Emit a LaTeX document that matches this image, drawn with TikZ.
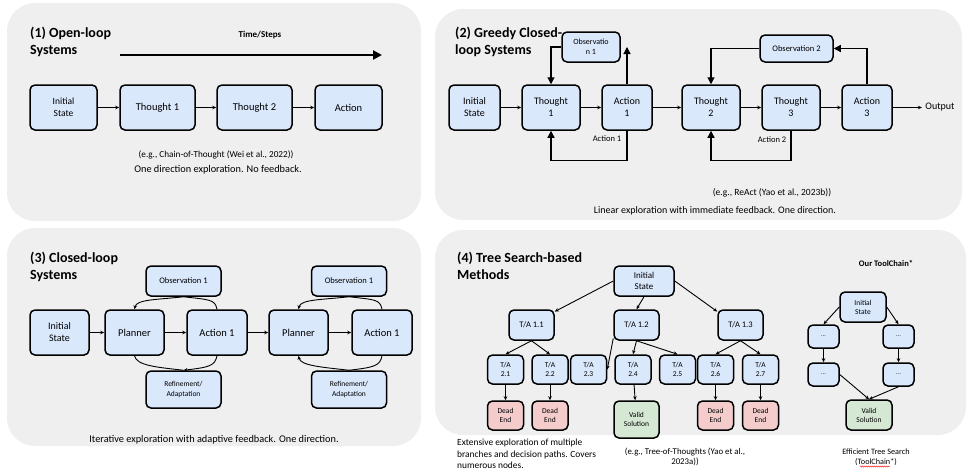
\documentclass[tikz,border=0pt]{standalone}
\usepackage{fontspec}
\setmainfont{Carlito}
\usetikzlibrary{arrows.meta,decorations.pathmorphing}

\definecolor{panelgray}{HTML}{EFEFEF}
\definecolor{boxblue}{HTML}{DAE8FC}
\definecolor{deadred}{HTML}{F4CCCC}
\definecolor{validgreen}{HTML}{D5E8D4}

\begin{document}
\begin{tikzpicture}[x=1pt,y=-1pt,
  panel/.style={fill=panelgray,rounded corners=28pt},
  blk/.style={draw=black,line width=1.5pt,rounded corners=5pt,fill=boxblue,align=center,inner sep=1pt},
  dead/.style={blk,fill=deadred},
  valid/.style={blk,fill=validgreen},
  flow/.style={-{Stealth[length=4pt,width=3.5pt]},line width=0.9pt},
  fb/.style={-{Triangle[length=7pt,width=7pt]},line width=1.2pt},
  title/.style={font=\bfseries\fontsize{14}{17}\selectfont,align=left,anchor=north west,inner sep=0pt},
  note/.style={font=\fontsize{9}{11}\selectfont,align=center,inner sep=0pt}]
\useasboundingbox (0,0) rectangle (968,471);

\fill[panel] (7,3) rectangle (421,221);
\fill[panel] (435,9) rectangle (962,220);
\fill[panel] (7,228) rectangle (421,446);
\fill[panel] (435,230) rectangle (966,435);

\node[title] (title1) at (30,27) {(1) Open-loop\\Systems};
\node[title] (title2) at (455,27) {(2) Greedy Closed-\\loop Systems};
\node[title] (title3) at (30,252) {(3) Closed-loop\\Systems};
\node[title] (title4) at (457,252) {(4) Tree Search-based\\Methods};

\node[font=\bfseries\fontsize{9}{11}\selectfont] (time) at (260,35) {Time/Steps};
\coordinate (ts) at (120,55);
\coordinate (te) at (382,55);
\draw[line width=2.2pt,-{Triangle[length=9pt,width=9pt]}] (ts) -- (te);

\begin{scope}[every node/.append style={blk,minimum height=45pt,font=\fontsize{10.5}{13}\selectfont}]
  \node[minimum width=67pt,font=\fontsize{9.5}{12}\selectfont] (is1) at (63.5,107.5) {Initial\\State};
  \node[minimum width=75pt] (th1) at (157.5,107.5) {Thought 1};
  \node[minimum width=75pt] (th2) at (254.5,107.5) {Thought 2};
  \node[minimum width=67pt] (act) at (348.5,107.5) {Action};
\end{scope}
\path[flow] (is1) edge (th1) (th1) edge (th2) (th2) edge (act);

\node[note,font=\fontsize{9.2}{11}\selectfont] (eg1) at (216,155) {(e.g., Chain-of-Thought (Wei et al., 2022))};
\node[note,font=\fontsize{10.3}{12}\selectfont] (cap1) at (218,170) {One direction exploration. No feedback.};

\begin{scope}[every node/.append style={blk,minimum height=45pt,font=\fontsize{10}{12}\selectfont}]
  \node[minimum width=51pt] (is2) at (474.5,107.5) {Initial\\State};
  \node[minimum width=58pt] (gt1) at (551,107.5) {Thought\\1};
  \node[minimum width=50pt] (ga1) at (627,107.5) {Action\\1};
  \node[minimum width=58pt] (gt2) at (711,107.5) {Thought\\2};
  \node[minimum width=58pt] (gt3) at (791,107.5) {Thought\\3};
  \node[minimum width=50pt] (ga3) at (867,107.5) {Action\\3};
\end{scope}
\node[font=\fontsize{10}{12}\selectfont] (out) at (940,107.5) {Output};
\node[blk,minimum width=58pt,minimum height=30pt,font=\fontsize{8}{10}\selectfont] (obs1) at (591,47) {Observatio\\n 1};
\node[blk,minimum width=73pt,minimum height=27pt,font=\fontsize{8.5}{10}\selectfont] (obs2) at (796.5,48.5) {Observation 2};
\path[flow] (is2) edge (gt1) (gt1) edge (ga1) (ga1) edge (gt2) (gt2) edge (gt3) (gt3) edge (ga3) (ga3) edge (out);
\draw[fb] (ga1.north) -- (ga1.north |- obs1.east);
\draw[fb] (obs1.west) -| (gt1.north);
\draw[fb] (ga1.south) -- ++(0,30) -| (gt1.south);
\draw[fb] (ga3.north) |- (obs2.east);
\draw[fb] (obs2.west) -| (gt2.north);
\draw[fb] (gt3.south) -- ++(0,30) -| (gt2.south);
\node[font=\fontsize{8.5}{10}\selectfont] (lab1) at (607,139) {Action 1};
\node[font=\fontsize{8.5}{10}\selectfont] (lab2) at (772,140) {Action 2};

\node[note,font=\fontsize{9.5}{11}\selectfont] (eg2) at (772,193) {(e.g., ReAct (Yao et al., 2023b))};
\node[note,font=\fontsize{10}{12}\selectfont] (cap2) at (715,211) {Linear exploration with immediate feedback. One direction.};

\begin{scope}[every node/.append style={blk,minimum height=45pt,font=\fontsize{10.5}{13}\selectfont}]
  \node[minimum width=59pt,font=\fontsize{10}{12}\selectfont] (is3) at (59.5,332.5) {Initial\\State};
  \node[minimum width=59pt] (pl1) at (134.5,332.5) {Planner};
  \node[minimum width=60pt] (ac1) at (217,332.5) {Action 1};
  \node[minimum width=59pt] (pl2) at (298.5,332.5) {Planner};
  \node[minimum width=60pt] (ac2) at (382,332.5) {Action 1};
\end{scope}
\begin{scope}[every node/.append style={blk,minimum width=75pt}]
  \node[minimum height=30pt,font=\fontsize{8.5}{10}\selectfont] (ob31) at (183.5,281) {Observation 1};
  \node[minimum height=30pt,font=\fontsize{8.5}{10}\selectfont] (ob32) at (349,281) {Observation 1};
  \node[minimum height=37pt,font=\fontsize{7.5}{10}\selectfont] (rf1) at (183.5,389.5) {Refinement/\\Adaptation};
  \node[minimum height=37pt,font=\fontsize{7.5}{10}\selectfont] (rf2) at (349,389.5) {Refinement/\\Adaptation};
\end{scope}
\path[flow] (is3) edge (pl1) (pl1) edge (ac1) (ac1) edge (pl2) (pl2) edge (ac2);
\draw[line width=0.9pt] (ac1.north) .. controls +(-2,-10) and +(26,3) .. (ob31.south);
\draw[flow] (ob31.south) .. controls +(-26,3) and +(2,-10) .. (pl1.north);
\draw[line width=0.9pt] (pl1.south) .. controls +(2,10) and +(-26,-3) .. (rf1.north);
\draw[flow] (ac1.south) .. controls +(-2,10) and +(26,-3) .. (rf1.north);
\draw[line width=0.9pt] (ac2.north) .. controls +(-2,-10) and +(26,3) .. (ob32.south);
\draw[flow] (ob32.south) .. controls +(-26,3) and +(2,-10) .. (pl2.north);
\draw[flow] (rf2.north) .. controls +(-26,-3) and +(2,10) .. (pl2.south);
\draw[line width=0.9pt] (ac2.south) .. controls +(-2,10) and +(26,-3) .. (rf2.north);
\node[note,font=\fontsize{10.3}{12}\selectfont] (cap3) at (214,440) {Iterative exploration with adaptive feedback. One direction.};

\node[blk,minimum width=60pt,minimum height=30pt,font=\fontsize{9}{11}\selectfont] (root) at (644,281) {Initial\\State};
\begin{scope}[every node/.append style={blk,minimum width=45pt,minimum height=30pt,font=\fontsize{8.5}{10}\selectfont}]
  \node (n11) at (531.5,325) {T/A 1.1};
  \node (n12) at (636.5,325) {T/A 1.2};
  \node (n13) at (740.5,325) {T/A 1.3};
\end{scope}
\begin{scope}[every node/.append style={blk,minimum width=36pt,minimum height=29pt,font=\fontsize{7.5}{9}\selectfont}]
  \node (l21) at (505.5,369.5) {T/A\\2.1};
  \node (l22) at (550,369.5) {T/A\\2.2};
  \node (l23) at (588.5,369.5) {T/A\\2.3};
  \node (l24) at (633,369.5) {T/A\\2.4};
  \node (l25) at (677.5,369.5) {T/A\\2.5};
  \node (l26) at (715.5,369.5) {T/A\\2.6};
  \node (l27) at (760.5,369.5) {T/A\\2.7};
  \node[dead] (d21) at (505.5,415.5) {Dead\\End};
  \node[dead] (d22) at (550,415.5) {Dead\\End};
  \node[dead] (d26) at (715.5,415.5) {Dead\\End};
  \node[dead] (d27) at (760.5,415.5) {Dead\\End};
  \node[valid,minimum width=45pt,minimum height=37pt] (ok24) at (636.5,419.5) {Valid\\Solution};
\end{scope}
\path[flow] (root.west) edge (n11.30) (root.south) edge (n12.north) (root.east) edge (n13.150);
\path[flow] (n11.south) edge (l21.north) (n11.south) edge (l22.north);
\path[flow] (n12.210) edge (l23.east) (n12.south) edge (l24.north) (n12.south) edge (l25.north);
\path[flow] (n13.south) edge (l26.north) (n13.south) edge (l27.north);
\path[flow] (l21) edge (d21) (l22) edge (d22) (l24) edge (ok24) (l26) edge (d26) (l27) edge (d27);

\node[note,anchor=north west,align=left,font=\fontsize{9.4}{11.5}\selectfont] (cap4) at (457,439) {Extensive exploration of multiple\\branches and decision paths. Covers\\numerous nodes.};
\node[note,font=\fontsize{8.8}{10.5}\selectfont] (eg4) at (685,457) {(e.g., Tree-of-Thoughts (Yao et al.,\\2023a))};

\node[font=\bfseries\fontsize{8.5}{10}\selectfont] (ours) at (886,263) {Our ToolChain*};
\node[blk,minimum width=46pt,minimum height=30pt,font=\fontsize{7.5}{9}\selectfont] (tcr) at (863,307) {Initial\\State};
\begin{scope}[every node/.append style={blk,minimum width=31pt,minimum height=23pt,font=\fontsize{6}{8}\selectfont}]
  \node (tl1) at (823.5,336.5) {...};
  \node (tr1) at (898.5,336.5) {...};
  \node (tl2) at (823.5,374.5) {...};
  \node (tr2) at (898.5,374.5) {...};
\end{scope}
\node[valid,minimum width=46pt,minimum height=30pt,font=\fontsize{7.5}{9}\selectfont] (tcv) at (869,415) {Valid\\Solution};
\path[flow] (tcr.west) edge (tl1.north) (tcr.east) edge (tr1.north);
\path[flow] (tl1) edge (tl2) (tr1) edge (tr2);
\path[flow] (tl2.east) edge (tcv.north) (tr2.south) edge (tcv.north);
\node[note,font=\fontsize{8.2}{10.5}\selectfont] (cap5) at (876,457) {Efficient Tree Search\\(ToolChain*)};
\draw[red,line width=0.4pt,decorate,decoration={snake,amplitude=0.6pt,segment length=2pt}] (860,466.5) -- (890,466.5);
\end{tikzpicture}
\end{document}
